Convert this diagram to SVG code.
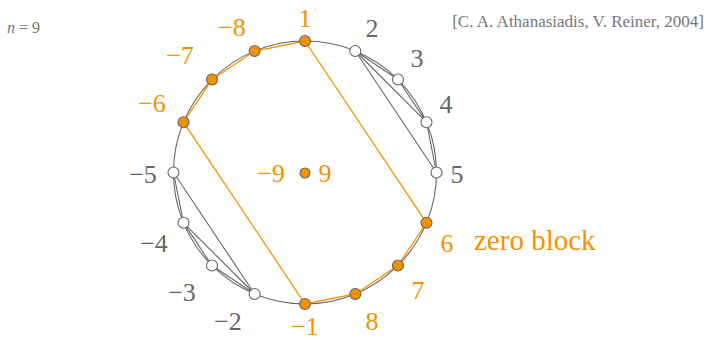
<svg xmlns="http://www.w3.org/2000/svg" width="712" height="340" viewBox="0 0 712 340">
<style>
.lbl{font-family:"Liberation Serif","DejaVu Serif",serif;font-size:26px;text-anchor:middle}
.g{fill:#666}
.o{fill:#f39200}
.gl{stroke:#666;stroke-width:1.1;fill:none}
.ol{stroke:#f39200;stroke-width:1.3;fill:none}
.dw{fill:#fff;stroke:#666;stroke-width:1.1}
.do{fill:#f39200;stroke:#666;stroke-width:1.1}
.sm{font-family:"Liberation Serif","DejaVu Serif",serif;fill:#777}
</style>
<rect width="712" height="340" fill="#fff"/>
<text x="7" y="33" class="sm" font-size="16"><tspan font-style="italic">n</tspan> = 9</text>
<text x="704" y="27" class="sm" font-size="17" text-anchor="end">[C. A. Athanasiadis, V. Reiner, 2004]</text>
<g id="circle"><circle cx="305" cy="172.5" r="131.5" class="gl"/></g>
<g id="connectors">
<line x1="355.32" y1="51.01" x2="397.98" y2="79.52" class="gl"/>
<line x1="397.98" y1="79.52" x2="426.49" y2="122.18" class="gl"/>
<line x1="426.49" y1="122.18" x2="436.5" y2="172.5" class="gl"/>
<line x1="355.32" y1="51.01" x2="426.49" y2="122.18" class="gl"/>
<line x1="355.32" y1="51.01" x2="436.5" y2="172.5" class="gl"/>
<line x1="254.68" y1="293.99" x2="212.02" y2="265.48" class="gl"/>
<line x1="212.02" y1="265.48" x2="183.51" y2="222.82" class="gl"/>
<line x1="183.51" y1="222.82" x2="173.5" y2="172.5" class="gl"/>
<line x1="254.68" y1="293.99" x2="183.51" y2="222.82" class="gl"/>
<line x1="254.68" y1="293.99" x2="173.5" y2="172.5" class="gl"/>
<polygon points="305,41 426.49,222.82 397.98,265.48 355.32,293.99 305,304 183.51,122.18 212.02,79.52 254.68,51.01" class="ol"/>
</g>
<g id="n1"><circle cx="305" cy="41" r="5.5" class="do"/><text x="305" y="27" class="lbl o">1</text></g>
<g id="n2"><circle cx="355.32" cy="51.01" r="5.5" class="dw"/><text x="372" y="37" class="lbl g">2</text></g>
<g id="n3"><circle cx="397.98" cy="79.52" r="5.5" class="dw"/><text x="417" y="67" class="lbl g">3</text></g>
<g id="n4"><circle cx="426.49" cy="122.18" r="5.5" class="dw"/><text x="446" y="113" class="lbl g">4</text></g>
<g id="n5"><circle cx="436.5" cy="172.5" r="5.5" class="dw"/><text x="457" y="183" class="lbl g">5</text></g>
<g id="n6"><circle cx="426.49" cy="222.82" r="5.5" class="do"/><text x="447" y="252" class="lbl o">6</text></g>
<g id="n7"><circle cx="397.98" cy="265.48" r="5.5" class="do"/><text x="418" y="299" class="lbl o">7</text></g>
<g id="n8"><circle cx="355.32" cy="293.99" r="5.5" class="do"/><text x="372" y="330" class="lbl o">8</text></g>
<g id="nm1"><circle cx="305" cy="304" r="5.5" class="do"/><text x="305" y="335" class="lbl o">−1</text></g>
<g id="nm2"><circle cx="254.68" cy="293.99" r="5.5" class="dw"/><text x="228" y="330" class="lbl g">−2</text></g>
<g id="nm3"><circle cx="212.02" cy="265.48" r="5.5" class="dw"/><text x="182" y="301" class="lbl g">−3</text></g>
<g id="nm4"><circle cx="183.51" cy="222.82" r="5.5" class="dw"/><text x="154" y="252" class="lbl g">−4</text></g>
<g id="nm5"><circle cx="173.5" cy="172.5" r="5.5" class="dw"/><text x="143" y="183" class="lbl g">−5</text></g>
<g id="nm6"><circle cx="183.51" cy="122.18" r="5.5" class="do"/><text x="152" y="112" class="lbl o">−6</text></g>
<g id="nm7"><circle cx="212.02" cy="79.52" r="5.5" class="do"/><text x="180" y="64" class="lbl o">−7</text></g>
<g id="nm8"><circle cx="254.68" cy="51.01" r="5.5" class="do"/><text x="232" y="36" class="lbl o">−8</text></g>
<g id="n9"><circle cx="305" cy="173" r="5" class="do"/><text x="271" y="182" class="lbl o">−9</text><text x="325" y="182" class="lbl o">9</text></g>
<g id="zero"><text x="474" y="250" class="lbl o" style="text-anchor:start;font-size:29px">zero block</text></g>
</svg>
